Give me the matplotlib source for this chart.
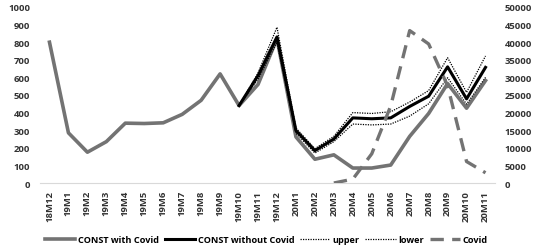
import numpy as np
import matplotlib.pyplot as plt

# valores
meses = ["18M12", "19M1", "19M2", "19M3", "19M4", "19M5", "19M6", "19M7", "19M8",
         "19M9", "19M10", "19M11", "19M12", "20M1", "20M2", "20M3", "20M4", "20M5",
         "20M6", "20M7", "20M8", "20M9", "20M10", "20M11"]
com_covid = [800, 285, 175, 235, 340, 338, 342, 390, 470, 620, 440, 560, 820,
             262, 135, 160, 85, 85, 102, 265, 395, 565, 425, 582]
# previsao sem covid comeca em 19M10
sem_covid = [440, 610, 830, 298, 184, 250, 370, 365, 370, 435, 493, 660, 478, 657]
upper = [440, 625, 885, 312, 195, 265, 400, 395, 405, 460, 525, 712, 515, 722]
lower = [440, 590, 800, 283, 170, 235, 335, 330, 335, 380, 450, 598, 448, 600]
# casos covid (eixo direito) a partir de 20M3
covid = [0, 1100, 8300, 21900, 43300, 39500, 27600, 6100, 2900]

cinza = "#737373"
plt.rcParams['font.family'] = ['Open Sans', 'DejaVu Sans']
plt.rcParams['font.weight'] = 'bold'

fig = plt.figure(figsize=(5.44, 2.53), dpi=100)
ax = fig.add_axes([40 / 544, 69 / 253, 455 / 544, 176 / 253])
ax2 = ax.twinx()

x = np.arange(len(meses))
x_prev = x[10:]
x_cov = x[15:]

l1, = ax.plot(x, com_covid, color=cinza, lw=2.6, label="CONST with Covid", zorder=3)
l2, = ax.plot(x_prev, sem_covid, color="black", lw=2.2, label="CONST without Covid", zorder=4)
l3, = ax.plot(x_prev, upper, color="black", lw=0.9, ls=(0, (1, 1)), label="upper", zorder=4)
l4, = ax.plot(x_prev, lower, color="black", lw=0.9, ls=(0, (1, 1)), label="lower", zorder=4)
l5, = ax2.plot(x_cov, covid, color=cinza, lw=2.4, ls=(0, (4, 2.5)), label="Covid")

ax.set_xlim(-0.5, len(meses) - 0.5)
ax.set_ylim(0, 1000)
ax.set_yticks(np.arange(0, 1001, 100))
ax2.set_ylim(0, 50000)
ax2.set_yticks(np.arange(0, 50001, 5000))
ax.set_xticks(x)
ax.set_xticklabels(meses, rotation=90)

for a in (ax, ax2):
    for s in a.spines.values():
        s.set_visible(False)
    a.tick_params(length=0, labelsize=6.8, colors="#333333")
ax.spines['bottom'].set_visible(True)
ax.spines['bottom'].set_color("#d9d9d9")
ax.spines['bottom'].set_linewidth(0.8)
ax.tick_params(axis='y', pad=7)
ax.tick_params(axis='x', pad=5)
ax2.tick_params(axis='y', pad=7)

fig.legend(handles=[l1, l2, l3, l4, l5], loc="center", bbox_to_anchor=(0.49, 12 / 253),
           ncol=5, frameon=False, fontsize=6.6, handlelength=3.3, handletextpad=0.3,
           columnspacing=0.6)

plt.savefig("out.png", dpi=100)
